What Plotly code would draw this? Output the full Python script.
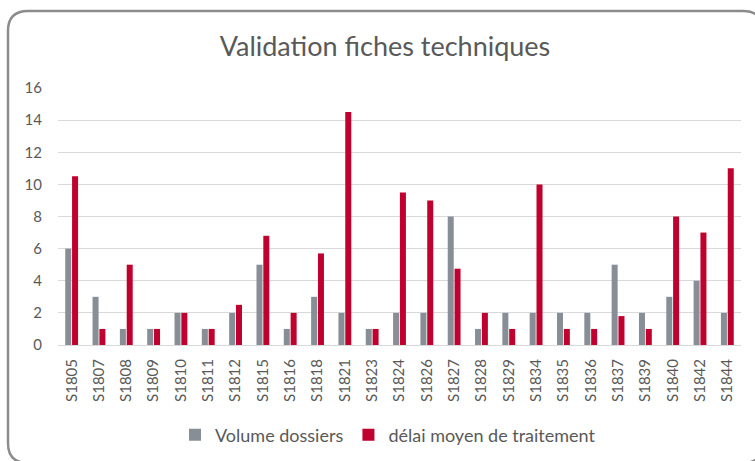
import plotly.graph_objects as go

categories = ["S1805", "S1807", "S1808", "S1809", "S1810", "S1811", "S1812", "S1815", "S1816",
              "S1818", "S1821", "S1823", "S1824", "S1826", "S1827", "S1828", "S1829", "S1834",
              "S1835", "S1836", "S1837", "S1839", "S1840", "S1842", "S1844"]
volume_dossiers = [6, 3, 1, 1, 2, 1, 2, 5, 1, 3, 2, 1, 2, 2, 8, 1, 2, 2, 2, 2, 5, 2, 3, 4, 2]
delai_moyen = [10.5, 1, 5, 1, 2, 1, 2.5, 6.8, 2, 5.7, 14.5, 1, 9.5, 9, 4.75, 2, 1, 10, 1, 1, 1.8, 1, 8, 7, 11]
y_ticks = [0, 2, 4, 6, 8, 10, 12, 14, 16]

W, H = 755, 461
L, T = 58, 88
R = W - 741
B = H - 345
pw, ph = W - L - R, H - T - B

fig = go.Figure()
fig.add_trace(go.Bar(x=categories, y=volume_dossiers, name="Volume dossiers",
                     marker=dict(color="#878e95", line=dict(width=0))))
fig.add_trace(go.Bar(x=categories, y=delai_moyen, name="délai moyen de traitement",
                     marker=dict(color="#c0002f", line=dict(width=0))))

def px2x(p):
    return (p - L) / pw

def py2y(p):
    return (H - B - p) / ph

# rounded border (pixel coordinates); the right and bottom edges lie outside the picture
x0, x1, y0, y1, r = 8, 763, 11, 463, 20
path = (f"M {px2x(x0 + r)},{py2y(y0)} L {px2x(x1 - r)},{py2y(y0)} "
        f"Q {px2x(x1)},{py2y(y0)} {px2x(x1)},{py2y(y0 + r)} "
        f"M {px2x(x1)},{py2y(y1 - r)} Q {px2x(x1)},{py2y(y1)} {px2x(x1 - r)},{py2y(y1)} "
        f"L {px2x(x0 + r)},{py2y(y1)} Q {px2x(x0)},{py2y(y1)} {px2x(x0)},{py2y(y1 - r)} "
        f"L {px2x(x0)},{py2y(y0 + r)} Q {px2x(x0)},{py2y(y0)} {px2x(x0 + r)},{py2y(y0)}")

fig.update_layout(
    width=W, height=H,
    margin=dict(l=L, r=R, t=T, b=B, autoexpand=False),
    paper_bgcolor="white", plot_bgcolor="white",
    font=dict(family="Lato, 'Open Sans', sans-serif", color="#595959", size=14),
    title=dict(text="Validation fiches techniques",
               x=385 / W, xanchor="center", xref="container",
               y=1 - 47 / H, yanchor="middle", yref="container",
               font=dict(size=27, color="#595959")),
    barmode="group", bargap=0.5, bargroupgap=0.12,
    showlegend=True,
    legend=dict(orientation="h", x=px2x(388), xanchor="center", y=py2y(435), yanchor="middle",
                font=dict(size=18, color="#595959"), traceorder="normal",
                itemwidth=30),
    xaxis=dict(tickangle=-90, showgrid=False, showline=True, linecolor="#d9d9d9",
               linewidth=1, ticks="", automargin=False, ticklabelstandoff=7,
               tickfont=dict(size=15, color="#595959")),
    yaxis=dict(range=[0, 16], tickvals=y_ticks, showgrid=True, gridcolor="#d9d9d9",
               gridwidth=1, zeroline=False, showline=False, ticks="", automargin=False,
               ticklabelstandoff=15, tickfont=dict(size=15, color="#595959")),
    shapes=[dict(type="path", xref="paper", yref="paper", path=path,
                 line=dict(color="#8c8c8c", width=2.5), fillcolor="rgba(0,0,0,0)",
                 layer="above")],
)

fig.write_html("out.html", config={"displayModeBar": False},
               post_script="document.body.style.margin='0';document.body.style.overflow='hidden';")
